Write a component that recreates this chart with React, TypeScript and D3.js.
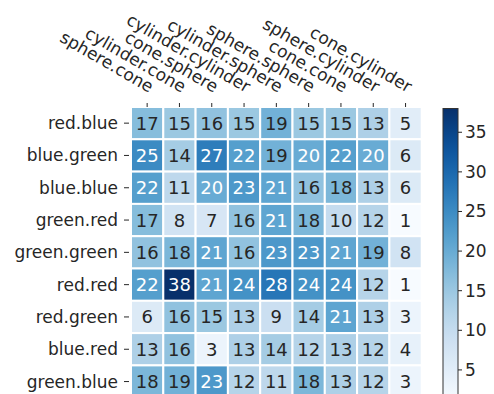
import React from "react";
import * as d3 from "d3";

// Row and column categories of the co-occurrence grid
const rowLabels = [
  "red.blue",
  "blue.green",
  "blue.blue",
  "green.red",
  "green.green",
  "red.red",
  "red.green",
  "blue.red",
  "green.blue",
];

const colLabels = [
  "sphere.cone",
  "cylinder.cone",
  "cone.sphere",
  "cylinder.cylinder",
  "cylinder.sphere",
  "sphere.sphere",
  "cone.cone",
  "sphere.cylinder",
  "cone.cylinder",
];

// Counts, one array per row
const counts: number[][] = [
  [17, 15, 16, 15, 19, 15, 15, 13, 5],
  [25, 14, 27, 22, 19, 20, 22, 20, 6],
  [22, 11, 20, 23, 21, 16, 18, 13, 6],
  [17, 8, 7, 16, 21, 18, 10, 12, 1],
  [16, 18, 21, 16, 23, 23, 21, 19, 8],
  [22, 38, 21, 24, 28, 24, 24, 12, 1],
  [6, 16, 15, 13, 9, 14, 21, 13, 3],
  [13, 16, 3, 13, 14, 12, 13, 12, 4],
  [18, 19, 23, 12, 11, 18, 13, 12, 3],
];

const colorbarTicks = [5, 10, 15, 20, 25, 30, 35];

const W = 494;
const H = 394;
const pitch = 32.3;
const left = 131;
const top = 107;
const textColor = "#262626";
const font = "'DejaVu Sans', sans-serif";

const allValues = counts.flat();
const vmin = d3.min(allValues) as number;
const vmax = d3.max(allValues) as number;

const color = (v: number) => d3.interpolateBlues((v - vmin) / (vmax - vmin));

// Light text on the darker half of the colour range, dark text elsewhere
const annotColor = (v: number) => (v > (vmin + vmax) / 2 ? "#ffffff" : textColor);

export default function App() {
  const x = d3
    .scaleBand<string>()
    .domain(colLabels)
    .range([left, left + pitch * colLabels.length]);
  const y = d3
    .scaleBand<string>()
    .domain(rowLabels)
    .range([top, top + pitch * rowLabels.length]);

  const cbX = 443;
  const cbW = 15;
  const cbScale = d3.scaleLinear().domain([vmin, vmax]).range([401.6, 108.5]);
  const stops = d3.range(0, 1.0001, 0.05);

  return (
    <svg
      width={W}
      height={H}
      style={{ position: "absolute", left: 0, top: 0, background: "#fff" }}
      fontFamily={font}
    >
      <defs>
        <linearGradient id="cbGrad" x1="0" y1="1" x2="0" y2="0">
          {stops.map((t) => (
            <stop key={t} offset={t} stopColor={d3.interpolateBlues(t)} />
          ))}
        </linearGradient>
      </defs>

      {/* cells */}
      {counts.map((row, i) =>
        row.map((v, j) => (
          <rect
            key={`c-${i}-${j}`}
            x={x(colLabels[j])}
            y={y(rowLabels[i])}
            width={x.bandwidth()}
            height={y.bandwidth()}
            fill={color(v)}
            stroke="#ffffff"
            strokeWidth={2}
          />
        ))
      )}

      {/* annotations */}
      {counts.map((row, i) =>
        row.map((v, j) => (
          <text
            key={`t-${i}-${j}`}
            x={(x(colLabels[j]) as number) + x.bandwidth() / 2}
            y={(y(rowLabels[i]) as number) + y.bandwidth() / 2}
            textAnchor="middle"
            dominantBaseline="central"
            fontSize={18}
            fill={annotColor(v)}
          >
            {v}
          </text>
        ))
      )}

      {/* row axis */}
      {rowLabels.map((r) => {
        const cy = (y(r) as number) + y.bandwidth() / 2;
        return (
          <g key={`r-${r}`}>
            <line x1={left - 7} x2={left - 2} y1={cy} y2={cy} stroke={textColor} strokeWidth={1} />
            <text
              x={left - 13}
              y={cy}
              textAnchor="end"
              dominantBaseline="central"
              fontSize={17}
              fill={textColor}
            >
              {r}
            </text>
          </g>
        );
      })}

      {/* column axis on top */}
      {colLabels.map((c) => {
        const cx = (x(c) as number) + x.bandwidth() / 2;
        return (
          <g key={`col-${c}`}>
            <line x1={cx} x2={cx} y1={top - 4} y2={top} stroke={textColor} strokeWidth={1} />
            <text
              transform={`translate(${cx + 2},${top - 14}) rotate(30)`}
              textAnchor="end"
              fontSize={17}
              fill={textColor}
            >
              {c}
            </text>
          </g>
        );
      })}

      {/* colorbar */}
      <rect
        x={cbX}
        y={cbScale(vmax)}
        width={cbW}
        height={cbScale(vmin) - cbScale(vmax)}
        fill="url(#cbGrad)"
        stroke="#333"
        strokeWidth={1}
      />
      {colorbarTicks.map((t) => (
        <g key={`cb-${t}`}>
          <line
            x1={cbX + cbW}
            x2={cbX + cbW + 4}
            y1={cbScale(t)}
            y2={cbScale(t)}
            stroke={textColor}
            strokeWidth={1}
          />
          <text
            x={cbX + cbW + 7}
            y={cbScale(t)}
            dominantBaseline="central"
            fontSize={17}
            fill={textColor}
          >
            {t}
          </text>
        </g>
      ))}
    </svg>
  );
}
